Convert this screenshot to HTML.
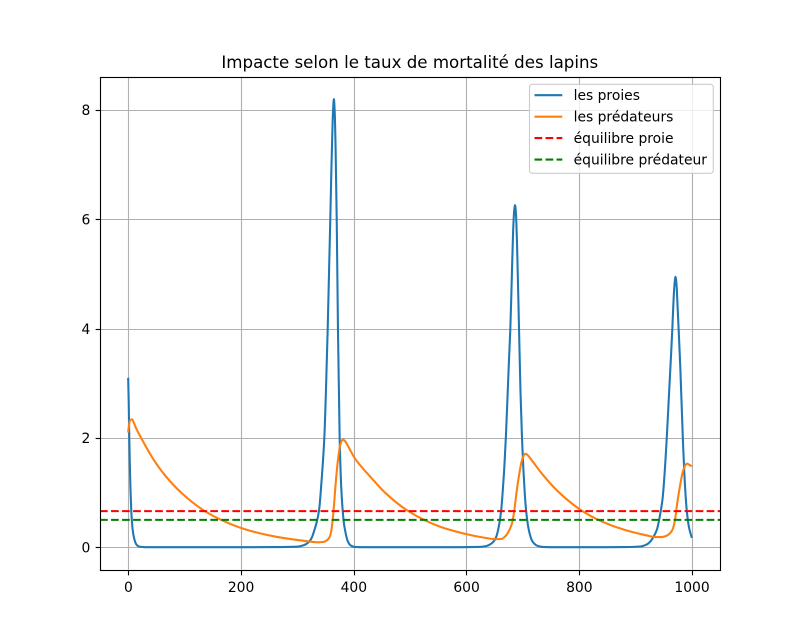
<!DOCTYPE html>
<html lang="fr">
<head>
<meta charset="utf-8">
<title>Impacte selon le taux de mortalité des lapins</title>
<style>
html,body{margin:0;padding:0;background:#fff;width:800px;height:640px;overflow:hidden}
svg{display:block;font-family:"DejaVu Sans","Liberation Sans",sans-serif;fill:#000}
</style>
</head>
<body>
<svg id="chart" xmlns="http://www.w3.org/2000/svg" width="800" height="640" viewBox="0 0 800 640"></svg>
<script>
const preyTimes = [0,1,2,3,4,5,5.5,6.5,8,10,12,14,17,21,30,60,120,200,260,300,310,320,326,330,334,338.6,343,348,351,354,356.5,358.6,360.5,362,363.5,365,366.5,368,370,372.2,375.2,378,380.6,383,385,387.5,390,395,402,420,480,560,620,635,642,648,653,657,661.7,664,667,670,673,675.5,678,680.5,683,685,686.5,688,690,693.4,696,698.7,701,703.5,706,709,712,716,720,725,735,760,820,880,910,920,926,932,938,941,945,948,951,955.5,959,962.5,965.4,967,969,971,973,974.5,976.5,979.5,984,988,991,995,1000];
const preyValues = [3.1,2.65,2,1.5,1.1,0.82,0.67,0.5,0.32,0.19,0.11,0.06,0.025,0.008,0.001,0,0,0,0.002,0.01,0.03,0.09,0.18,0.3,0.44,0.67,1.2,2,2.9,4,5.1,6,6.9,7.5,8,8.2,7.95,7.3,6,4,2,1.1,0.67,0.42,0.3,0.18,0.1,0.03,0.005,0.001,0,0,0.005,0.02,0.05,0.1,0.19,0.35,0.67,0.95,1.4,2,2.75,3.4,4,4.9,5.8,6.18,6.26,6.1,5.5,4,2.85,2,1.45,1,0.67,0.42,0.26,0.13,0.07,0.03,0.005,0,0,0.002,0.015,0.05,0.1,0.19,0.32,0.45,0.67,0.88,1.25,2,2.7,3.4,4,4.4,4.78,4.95,4.78,4.45,4,3.3,2,1.1,0.67,0.36,0.17];
const predatorTimes = [0,2,4,7,10,14,23,43.5,65,95,136,167,210,263,317,335,345,351,355,358,360,362,364,366,368,370,372,374,376,378.5,381,384,390.6,402,414,426,440,455.6,494,527,562,630,652,662,670,677,681,684,686,688,690,694,698,701,703,705,708,716,733.7,763,804.6,840.5,881.5,920,935,945,955,964,967,970,972.5,975,979,983.5,987,990,992,995,1000];
const predatorValues = [2.1,2.27,2.33,2.34,2.28,2.18,2,1.63,1.32,0.99,0.66,0.49,0.32,0.19,0.11,0.09,0.095,0.115,0.15,0.2,0.28,0.42,0.62,0.88,1.15,1.38,1.58,1.74,1.86,1.94,1.97,1.95,1.84,1.63,1.47,1.33,1.17,1,0.68,0.49,0.345,0.178,0.148,0.15,0.21,0.33,0.44,0.6,0.75,0.92,1.08,1.35,1.57,1.66,1.7,1.71,1.69,1.59,1.35,1.016,0.67,0.47,0.315,0.215,0.185,0.185,0.21,0.29,0.36,0.49,0.68,0.87,1.12,1.36,1.47,1.52,1.53,1.51,1.48];
const equilibriumPrey = [0.66];
const equilibriumPredator = [0.5];
const xTickValues = [0,200,400,600,800,1000];
const yTickValues = [0,2,4,6,8];
const xLimits = [-49.95,1049.95];
const yLimits = [-0.41,8.61];
const legendLabels = ['les proies','les prédateurs','équilibre proie','équilibre prédateur'];

const NS = 'http://www.w3.org/2000/svg';
const svg = document.getElementById('chart');
const plot = {left:100,right:720,top:76.8,bottom:569.6};
const sx = v => plot.left + (v - xLimits[0]) / (xLimits[1] - xLimits[0]) * (plot.right - plot.left);
const sy = v => plot.bottom - (v - yLimits[0]) / (yLimits[1] - yLimits[0]) * (plot.bottom - plot.top);
const snap = v => Math.floor(v + 0.5) + 0.5;

function mk(tag, attrs, parent) {
  const el = document.createElementNS(NS, tag);
  for (const k in attrs) el.setAttribute(k, attrs[k]);
  (parent || svg).appendChild(el);
  return el;
}

/* Monotone cubic path through the data points, so no overshoot around peaks. */
function smoothPath(ts, vs) {
  const xs = ts.map(sx);
  const ys = vs.map(sy);
  const n = xs.length;
  const d = [];
  for (let i = 0; i < n - 1; i++) d.push((ys[i + 1] - ys[i]) / (xs[i + 1] - xs[i]));
  const m = new Array(n);
  m[0] = d[0];
  m[n - 1] = d[n - 2];
  for (let i = 1; i < n - 1; i++) {
    if (d[i - 1] * d[i] <= 0) { m[i] = 0; continue; }
    const h0 = xs[i] - xs[i - 1];
    const h1 = xs[i + 1] - xs[i];
    const w1 = 2 * h1 + h0;
    const w2 = h1 + 2 * h0;
    m[i] = (w1 + w2) / (w1 / d[i - 1] + w2 / d[i]);
  }
  let path = 'M' + xs[0].toFixed(2) + ' ' + ys[0].toFixed(2);
  for (let i = 0; i < n - 1; i++) {
    const h = (xs[i + 1] - xs[i]) / 3;
    path += 'C' + (xs[i] + h).toFixed(2) + ' ' + (ys[i] + m[i] * h).toFixed(2) + ' ' +
      (xs[i + 1] - h).toFixed(2) + ' ' + (ys[i + 1] - m[i + 1] * h).toFixed(2) + ' ' +
      xs[i + 1].toFixed(2) + ' ' + ys[i + 1].toFixed(2);
  }
  return path;
}

const frame = {left:snap(plot.left), right:snap(plot.right), top:snap(plot.top), bottom:snap(plot.bottom)};

const defs = mk('defs', {});
const clip = mk('clipPath', {id:'plot-clip'}, defs);
mk('rect', {x:plot.left, y:plot.top, width:plot.right-plot.left, height:plot.bottom-plot.top}, clip);

const bg = mk('rect', {x:plot.left, y:plot.top, width:plot.right-plot.left, height:plot.bottom-plot.top, fill:'#fff'});



xTickValues.forEach(v => {
  const x = snap(sx(v));
  const grid = mk('line', {x1:x, x2:x, y1:plot.top, y2:plot.bottom, stroke:'#b0b0b0', 'stroke-width':1.11});
  
  
  const tick = mk('line', {x1:x, x2:x, y1:frame.bottom, y2:frame.bottom+4.86, stroke:'#000', 'stroke-width':1.11});
  
  
  const label = mk('text', {x:sx(v)+0.2, y:plot.bottom+22.2, 'text-anchor':'middle', 'font-size':13.89});
  
  
  label.textContent = String(v);
});

yTickValues.forEach(v => {
  const y = snap(sy(v));
  const grid = mk('line', {x1:plot.left, x2:plot.right, y1:y, y2:y, stroke:'#b0b0b0', 'stroke-width':1.11});
  
  
  const tick = mk('line', {x1:frame.left-4.86, x2:frame.left, y1:y, y2:y, stroke:'#000', 'stroke-width':1.11});
  
  
  const label = mk('text', {x:plot.left-9.7, y:sy(v)+5.1, 'text-anchor':'end', 'font-size':13.89});
  
  
  label.textContent = String(v);
});

const series = mk('g', {'clip-path':'url(#plot-clip)', fill:'none'});



const preyLine = mk('path', {d:smoothPath(preyTimes, preyValues), stroke:'#1f77b4', 'stroke-width':2.08, 'stroke-linejoin':'round', fill:'none'}, series);



const predatorLine = mk('path', {d:smoothPath(predatorTimes, predatorValues), stroke:'#ff7f0e', 'stroke-width':2.08, 'stroke-linejoin':'round', fill:'none'}, series);



const preyEq = mk('line', {x1:plot.left, x2:plot.right, y1:sy(equilibriumPrey[0]), y2:sy(equilibriumPrey[0]), stroke:'#ff0000', 'stroke-width':2.08, 'stroke-dasharray':'7.7 3.33'}, series);



const predatorEq = mk('line', {x1:plot.left, x2:plot.right, y1:sy(equilibriumPredator[0]), y2:sy(equilibriumPredator[0]), stroke:'#008000', 'stroke-width':2.08, 'stroke-dasharray':'7.7 3.33'}, series);



const spine = mk('rect', {x:frame.left, y:frame.top, width:frame.right-frame.left, height:frame.bottom-frame.top, fill:'none', stroke:'#000', 'stroke-width':1.11});



const title = mk('text', {x:409.8, y:68, 'text-anchor':'middle', 'font-size':16.67});


title.textContent = 'Impacte selon le taux de mortalité des lapins';

const legend = mk('g', {});



const legendBox = mk('rect', {x:529.5, y:84.3, width:183.8, height:89, rx:2.8, ry:2.8, fill:'#fff', 'fill-opacity':0.8, stroke:'#cccccc', 'stroke-width':1.11}, legend);



const legendColors = ['#1f77b4','#ff7f0e','#ff0000','#008000'];
legendLabels.forEach((text, i) => {
  const y = 95.2 + i * 21.45;
  const handle = mk('line', {x1:534.5, x2:562.3, y1:y, y2:y, stroke:legendColors[i], 'stroke-width':2.08}, legend);
  if (i > 1) handle.setAttribute('stroke-dasharray', '7.7 3.33');
  
  
  const label = mk('text', {x:573.6, y:y+4.9, 'font-size':13.89}, legend);
  
  
  label.textContent = text;
});
</script>
</body>
</html>
